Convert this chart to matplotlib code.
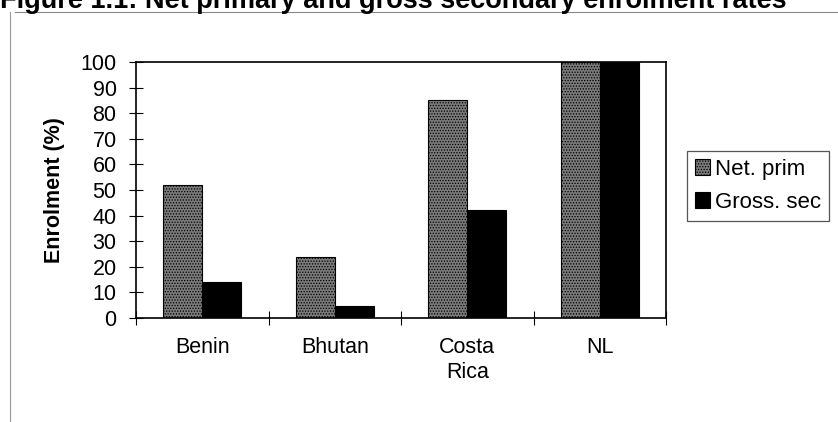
import matplotlib
matplotlib.use("Agg")
import matplotlib.pyplot as plt
import numpy as np

plt.rcParams['font.family'] = ['Liberation Sans', 'DejaVu Sans']
plt.rcParams['hatch.linewidth'] = 0.6

countries = ["Benin", "Bhutan", "Costa\nRica", "NL"]
net_primary = [52, 24, 85, 100]
gross_secondary = [14, 4.5, 42, 100]
series_names = ["Net. prim", "Gross. sec"]
y_ticks = [0, 10, 20, 30, 40, 50, 60, 70, 80, 90, 100]

fig = plt.figure(figsize=(8.38, 4.22), dpi=100)
ax = fig.add_axes([136 / 838, 1 - 318 / 422, 530 / 838, 256 / 422])

x = np.arange(len(countries))
w = 0.295
ax.bar(x - w / 2, net_primary, width=w, color="#7a7a7a", edgecolor="black",
       linewidth=0.8, hatch="......", label=series_names[0])
ax.bar(x + w / 2, gross_secondary, width=w, color="black", edgecolor="black",
       linewidth=0.8, label=series_names[1])

ax.set_xlim(-0.5, len(countries) - 0.5)
ax.set_ylim(0, 100)
ax.set_yticks(y_ticks)
ax.set_yticklabels([str(v) for v in y_ticks], fontsize=15.5)
ax.set_xticks(np.arange(len(countries) + 1) - 0.5)
ax.set_xticklabels([])
ax.set_xticks(x, minor=True)
ax.set_xticklabels(countries, minor=True, fontsize=15.5, va="top", linespacing=1.2)
ax.tick_params(axis="x", which="minor", length=0, pad=14)
ax.tick_params(axis="x", which="major", direction="inout", length=10, width=0.8)
ax.tick_params(axis="y", direction="inout", length=10, width=0.8, pad=9)
for s in ax.spines.values():
    s.set_linewidth(1.2)

ax.set_ylabel("Enrolment (%)", fontsize=15.5, fontweight="bold")
ax.yaxis.set_label_coords(-0.134, 0.5)

leg = fig.legend(loc="upper left", bbox_to_anchor=(687 / 838, 1 - 151 / 422),
                 bbox_transform=fig.transFigure, borderaxespad=0, fontsize=16,
                 fancybox=False, framealpha=1, edgecolor="#555555",
                 handlelength=0.7, handleheight=0.7, handletextpad=0.2,
                 borderpad=0.35, labelspacing=0.55)
leg.get_frame().set_linewidth(0.9)

# title strip running off the top edge, with its rule and page margin line
fig.text(0.0, 1 - 8 / 422, "Figure 1.1: Net primary and gross secondary enrolment rates",
         fontsize=19.5, fontweight="bold", ha="left", va="baseline")
fig.add_artist(plt.Line2D([15 / 838, 1.0], [1 - 12 / 422, 1 - 12 / 422],
                          transform=fig.transFigure, color="#888888", lw=0.8))
fig.add_artist(plt.Line2D([10 / 838, 10 / 838], [0, 1 - 12 / 422],
                          transform=fig.transFigure, color="#999999", lw=0.8))

fig.savefig("out.png", dpi=100)
